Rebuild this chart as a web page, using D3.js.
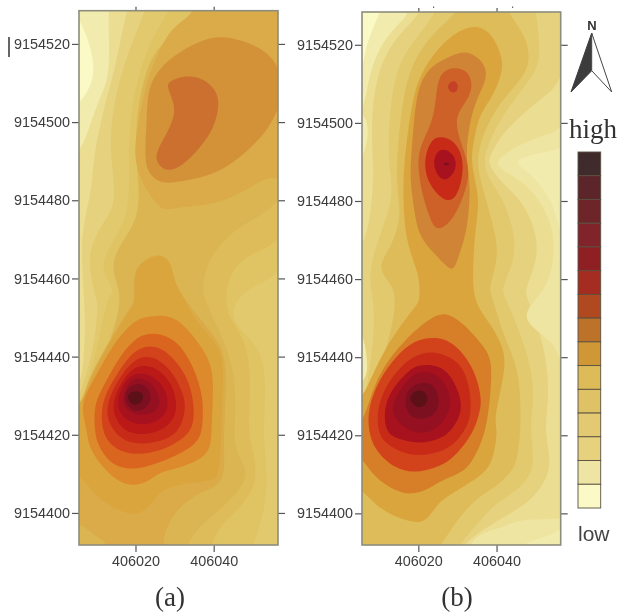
<!DOCTYPE html>
<html>
<head>
<meta charset="utf-8">
<script src="https://cdn.jsdelivr.net/npm/d3@7"></script>
<style>
  html, body { margin: 0; padding: 0; background: #fff; }
  svg { display: block; filter: blur(0.45px); }
  .tick text { font-family: "Liberation Sans", Arial, sans-serif; font-size: 14.4px; fill: #3c3c3c; }
  .tick line { stroke: #555; stroke-width: 1.2px; }
  .domain { display: none; }
</style>
</head>
<body>
<svg id="chart" width="620" height="613"></svg>
<script>
const eastTicks = [406020, 406040];
const northTicks = [9154400, 9154420, 9154440, 9154460, 9154480, 9154500, 9154520];
const panelLabels = ['(a)', '(b)'];

// colours of the contour bands, referred to by index in the rings below
const mapLevels = ['#FBF9C6', '#F2EBAE', '#EBDD92', '#E6D27E', '#E2C96E', '#E0C363', '#DEBC5A', '#DBB551',
  '#DAAB48', '#DBA53D', '#DC8A2C', '#D9651F', '#D2431C', '#C82A18', '#BB1818', '#A8121E', '#951020',
  '#7D1020', '#5C1017', '#CC7030', '#D08436', '#CD6128', '#C44026', '#EFE5A2', '#D49238', '#D67E28'];

// legend boxes, high to low
const legendColors = ['#3F2A2C', '#5C2529', '#6E2529', '#81232A', '#8E2023', '#A52C20', '#B0491F', '#BD7229',
  '#CF9736', '#DDBB58', '#DFC166', '#E3CA72', '#E6D27E', '#EEE5A5', '#FBF9C5'];

// contour rings as [band, [[metres east of 406000, metres north of 9154400], ...]], painted in order
const ringsA = [
  [5, [[35.7,128.5],[29,122],[24,116],[21,105],[20,92],[21,78],[17,70],[14,63],[16,56],[14,46],[5.6,25],[0,25],[0,135],[35.7,135]]],
  [4, [[28,128.5],[22.9,118.4],[19.5,105.6],[18.2,92.8],[18.2,78.3],[14.4,69.8],[11.4,63],[14.4,57],[12.7,54.5],[11,46],[5.6,28],[0,28],[0,135],[28,135]]],
  [3, [[22,128.5],[17.8,116.7],[14.8,105.6],[13.5,92.8],[14.8,80],[11,73.2],[8,64.7],[10.1,54.5],[10.1,52],[9.3,43.4],[5.6,31.5],[0,31],[0,135],[22,135]]],
  [2, [[17.4,128.5],[14.8,114.2],[11.8,103],[9.3,90.3],[8.8,83.5],[6.7,73.2],[6.3,64.7],[7.1,50.2],[6.7,41.7],[5.6,34],[0,34],[0,135],[17.4,135]]],
  [1, [[12.7,128.5],[13.3,113.3],[10.5,105.6],[7.6,97.1],[5.6,93.7],[0,90],[0,135],[12.7,135]]],
  [0, [[5.6,126],[9.7,113.3],[5.6,105.6],[2,105],[2,127]]],
  [6, [[56.5,77.5],[46.8,73.2],[40,66.4],[37.6,59.6],[37.8,54.5],[41.7,46],[45.1,35.7],[45.5,24.6],[45.5,16.1],[48.5,10.1],[44.2,3.3],[36.5,-3.5],[34,-8.2],[34,-14],[62,-14],[62,77.5]]],
  [5, [[56.5,68.1],[50.2,66.4],[45.1,62.1],[43.4,56.2],[44,50],[48.5,42.5],[49.3,28.9],[48.9,20.4],[51,10.1],[47.6,2.5],[41.7,-3.5],[40,-8.2],[40,-14],[62,-14],[62,68]]],
  [4, [[56.5,60],[50.2,57.9],[46.3,54.5],[45.1,51],[46.8,46.8],[51.5,41.7],[53.2,33.2],[52.7,20.4],[53.6,10.1],[52.7,-0.1],[50.2,-8.2],[50.2,-14],[62,-14],[62,60]]],
  // upper high
  [8, [[35.7,128.5],[29.7,124.4],[25.5,116.7],[22.9,109.9],[20.8,99.7],[19.9,91.2],[22,84.3],[25.5,79.2],[28,77.7],[33.1,78.5],[40,79.2],[48.5,82.6],[56.5,87.3],[62,84],[62,135],[36,135]]],
  [24, [[43.4,121.7],[36.5,120.5],[29.7,116.7],[25.5,112.4],[23.3,107.3],[22.9,99.7],[22.5,91.2],[23.8,86.9],[27.2,84.5],[33.1,85.2],[40,86.9],[46.8,91.2],[53.6,98],[56.5,103.9],[57.9,108.2],[56.5,113.3],[52.7,118.4]]],
  [19, [[28.9,110.3],[32.3,111.6],[36.5,111.2],[39.9,108.6],[41.2,104.8],[39.9,98.8],[36.5,93.7],[32.3,89.4],[28.4,87.7],[25.9,89.4],[25.5,92.4],[28,97.1],[29.7,101.4],[29.7,104.8],[28.4,108.6]]],
  // lower high
  [8, [[19.6,61.3],[22.9,64.9],[26.3,65.9],[28.9,64],[30.2,58.9],[32.7,54.7],[37,49],[42.2,41.9],[43,33.2],[42.8,25],[42.6,17],[42.6,11],[41,7.2],[36.3,5],[31.2,1.2],[28.2,-3.5],[26.9,-8.2],[26.9,-11.2],[12.8,-11.2],[12.8,-7.8],[9.9,-6.1],[5.6,-2.2],[2.4,0],[2.4,27],[5.6,27.2],[7.7,33.2],[12,41.7],[18,51.9],[19.6,54.5]]],
  [9, [[19.9,61.3],[22.9,64.7],[26.3,65.7],[28.9,63.8],[30.2,58.7],[32.7,54.5],[36.5,47.7],[41.7,41.7],[42.3,33.2],[42,25.5],[41.8,17],[41,10.1],[38.8,8.4],[31.2,7.2],[26.5,5.5],[22.6,0.8],[18.4,-0.1],[12.4,2.5],[8.1,6.7],[5.6,9.7],[2.4,12.7],[2.4,27],[5.6,27.2],[8.2,33.2],[12.4,41.7],[18.4,51.9],[19.9,54.5]]],
  [10, [[25.9,50.4],[30.6,49.4],[35.7,43.8],[39.4,37.4],[39.7,28.9],[39.3,21.2],[38.4,15.3],[32,11.9],[26.9,10.6],[23.5,8.4],[19.2,7.2],[14.1,9.3],[8.6,16.1],[7.7,21.2],[6.4,28],[9.9,34.9],[14.1,42.5],[18.4,47.7],[21.8,49.8]]],
  [11, [[21.8,45.3],[25.2,45.8],[30.3,43.8],[34.6,37.4],[37,29.8],[37.1,23.8],[36.7,21.2],[34.6,17],[25.2,12.7],[19.2,11.4],[14.1,12.7],[10.8,17],[9.7,21.2],[9.7,27.2],[11.8,32.3],[16.1,40],[19.5,43.8]]],
  [12, [[22,42.3],[26.3,42.1],[30.6,38.3],[33.6,33.2],[34.8,27.2],[34.4,22.1],[31.4,18.7],[26.3,16.1],[20.3,15.1],[15.2,16.5],[12.2,19.9],[11.4,24.6],[12.2,29.8],[15.2,35.3],[18.6,40]]],
  [13, [[22,39.8],[25.9,39.1],[29.7,35.3],[32.3,29.8],[32.4,25.5],[30.6,20.8],[26.3,18.5],[20.8,17.8],[16.5,19.1],[13.7,22.5],[12.8,26.3],[13.9,30.6],[16.5,35.3],[19.3,38.4]]],
  [14, [[21.6,37.6],[25.5,36.7],[28.9,33.2],[30.3,28.5],[29.7,24.2],[26.3,21.2],[21.6,20.2],[17.4,21.2],[15.1,24.2],[14.4,27.6],[15.7,31.9],[18.6,36.1]]],
  [15, [[21.2,35.7],[24.6,34.7],[27.2,31.9],[28.2,28.5],[27.3,25.1],[24.2,23.1],[20.3,22.8],[17.1,24.5],[15.5,27.6],[16.5,31.9],[18.6,34.7]]],
  [16, [[20.8,34.4],[23.8,33.3],[25.6,30.6],[26.1,28],[24.8,25.9],[21.6,25.1],[18.6,25.9],[16.8,28.5],[17.6,31.9],[19.1,33.8]]],
  [17, [[20.5,33],[22.9,32.1],[23.9,29.6],[22.9,27.2],[20.3,26],[18.2,27.4],[17.4,29.6],[18.2,31.9]]],
  [18, [[20,31.2],[21.6,30.6],[21.9,29.5],[21.2,28.2],[20,27.7],[18.8,28.2],[18.1,29.5],[18.6,30.6]]]
];

const ringsB = [
  [4, [[29,128.2],[23.8,122.8],[18.7,115.1],[16.2,105.7],[14.9,94.6],[14.5,84.4],[15.3,75.9],[12.8,68.2],[10.2,63.1],[12.8,58.8],[14,54.6],[12.8,46],[9.3,35],[5.6,26.4],[0,26],[0,135],[29,135]]],
  [3, [[23.8,128.2],[19.6,121.9],[15.3,115.1],[13.2,105.7],[12.3,92.9],[13.2,83.5],[11.9,75.9],[7.6,63.1],[8.5,54.6],[8.5,46],[7.2,35.8],[5.6,29.8],[0,29],[0,135],[23.8,135]]],
  [2, [[20,128.2],[15.3,122.8],[11.5,116.8],[8.9,108.3],[8.1,97.2],[8.5,87],[7.6,76.7],[5.6,69.9],[0,68],[0,135],[20,135]]],
  [1, [[16.6,128.2],[16.6,127],[11.9,121.9],[8.5,115.1],[6.8,108.3],[5.6,104],[2,102],[2,132],[16.6,132]]],
  [0, [[10,128.2],[8.5,124.5],[6.4,118.5],[5.6,114.2],[3,112],[3,131],[10,131]]],
  [1, [[5.6,102.3],[7.2,98],[5.6,91.2],[3,91],[3,102]]],
  [1, [[5.6,46],[7,37.5],[5.6,34],[3,34],[3,46]]],
  // valley on the right side
  [4, [[43.4,128.2],[47.3,121.9],[48.1,115.1],[45.1,110],[40.9,104.9],[37.5,98.9],[35.8,93.8],[35.3,88.7],[37.1,81],[39.6,71.6],[40,64.8],[38.3,58],[39.2,54.6],[41.7,46],[45.1,37.5],[46,29],[46,21.3],[45.1,13.6],[43.1,10.2],[39.7,6.8],[34.6,3.4],[29.5,-2.6],[26.5,-8.1],[26.5,-14],[62,-14],[62,134],[43.4,134]]],
  [3, [[50.3,128.2],[50.7,121.9],[50.7,115.1],[46.9,109.1],[42.6,103.2],[39.2,97.2],[37.5,92.9],[37.1,89.5],[38.3,85.3],[41.7,80.1],[44.3,71.6],[44.3,64.8],[41.7,58],[42.6,54.6],[46,46],[48.6,37.5],[49.4,29],[48.6,21.3],[49.4,11.9],[45.1,6],[40,2.6],[34.6,-3.4],[31.2,-8.1],[31.2,-14],[62,-14],[62,134],[50.3,134]]],
  [2, [[56.4,109.1],[52,106.6],[46.9,102.3],[41.7,97.2],[38.8,92.1],[38.3,89.5],[40.9,85.3],[46,80.1],[49.4,73.3],[50.3,65.6],[47.7,58],[48.1,54.6],[51.1,46],[52.8,37.5],[53.2,29],[52.4,20.5],[53.7,11.9],[49.4,4.3],[43.4,0],[36.6,-4.3],[32.4,-8.1],[32.4,-14],[62,-14],[62,109]]],
  [23, [[56.4,97.6],[52,96.8],[45.1,93.8],[40.5,90.4],[41.7,87.8],[47.7,84],[52.8,76.7],[54.5,69.9],[54.1,63.1],[52,57.1],[47.3,51.2],[50.3,46.9],[54.5,43.5],[56.4,40.1],[62,38],[62,100]]],
  [23, [[33.7,-8.1],[36.7,-5.1],[42.2,-3.4],[46.5,-1.7],[56.4,-1.7],[62,-2],[62,-14],[33.7,-14]]],
  [1, [[56.4,92.9],[50.3,92.1],[45.1,89.9],[48.6,87],[54.5,79.3],[56.4,71.6],[62,70],[62,94]]],
  [1, [[46.9,-8.1],[52,-6.4],[56.4,-4.3],[62,-4],[62,-14],[46.9,-14]]],
  [6, [[5.6,-5.1],[9,-8.1],[9,-14],[2,-14],[2,-3]]],
  // the long outer ring around both highs
  [9, [[33.6,124.6],[38.3,122.8],[40.9,117.6],[41.3,113.4],[39.2,107.4],[35.8,101.9],[34.5,96.3],[33.6,90.4],[34.9,83.5],[35.3,78.4],[34.5,71.6],[34.1,63.1],[34.5,54.6],[38.3,48.6],[41.7,41.8],[41.7,35],[39.6,24.7],[40.1,21.3],[38.8,13.6],[35.4,9.4],[28.6,5.1],[24.8,2.1],[22.2,-1.3],[18.4,-2.1],[10.7,0.9],[5.6,6.4],[3.4,8.5],[3.4,29],[5.6,29],[10.7,40.9],[18.4,52],[20,54.6],[20,61.4],[17,69.9],[16.2,83.5],[17,94.6],[18.7,105.7],[21.3,113.4],[27.2,121.1]]],
  // upper highs
  [20, [[32.4,118.1],[36.6,115.1],[37.1,110.8],[34.5,104.9],[32.8,97.2],[32.4,90.4],[33.2,83.5],[32.4,73.3],[30.7,67.3],[29,62.7],[26.8,63.9],[23,67.8],[20,72.5],[18.7,80.1],[18,87],[18.7,97.2],[20,108.3],[23.4,114.2],[28.1,116.8]]],
  [21, [[29,114],[32.4,113],[33.6,109.5],[32.4,105.7],[29.8,101.4],[30.7,95.5],[32.8,88.7],[31.9,82.7],[29,75.9],[25.1,72.9],[23,75.9],[20.9,82.7],[20,90.4],[21.3,95.5],[23.8,101.4],[24.7,108.3],[26,112.5]]],
  [22, [[29,110.8],[30.2,109.3],[29,107.6],[27.4,109.3]]],
  [13, [[25.5,96.3],[29,95.1],[31.1,91.2],[31.1,86.1],[29.4,81],[26.4,80.6],[23,84.4],[21.7,89.5],[23,94.6]]],
  [15, [[26.4,93.2],[29,91.6],[29.5,88.2],[27.2,85.5],[25.1,86.5],[24,89.5],[24.7,92.1]]],
  [17, [[27.2,89.9],[28,89.5],[27.2,89.1],[26.4,89.5]]],
  // lower high
  [25, [[26.9,51],[31.2,48.6],[35.9,43.5],[38.4,39.2],[38.4,31.5],[37.1,21.3],[34.2,14.5],[31.2,10.7],[26.1,8.5],[22.6,6.4],[18.4,5.1],[14.1,6],[9,9.4],[5.6,14.1],[3.8,16.2],[3.8,23.4],[5.6,23.9],[7.3,28.1],[10.7,36.7],[16.7,44.3],[22.6,49.4]]],
  [12, [[23.9,44.8],[28.6,43.5],[33.7,37.5],[35.9,29.8],[35.4,25.6],[33.7,20.5],[28.6,14.1],[24.3,11.9],[19.2,10.7],[14.1,11.9],[9.4,16.2],[7.5,21.3],[7.6,27.3],[10.2,34.1],[14.5,40.1],[19.1,43.9]]],
  [13, [[21.3,40.9],[25.1,40.9],[30.3,38.4],[32.9,32.4],[33.3,25.6],[31.7,21.3],[29,17.9],[25.2,15.8],[20.1,14.9],[15.8,15.8],[12,17.9],[9.9,21.3],[9.9,27.3],[12.3,33.2],[17,38.8]]],
  [15, [[21.7,37.9],[26.9,36.7],[30.3,30.7],[30.7,25.6],[28.2,21.3],[25.2,19.2],[20.1,18.1],[15,19.2],[12,21.3],[11.6,27.3],[14,32.4],[17.9,36.7]]],
  [16, [[21.3,36.2],[25.1,35.1],[27.7,31.1],[27.9,26.9],[25.5,22.6],[21.3,20.6],[17,21.7],[14,24.7],[13.6,28.1],[15.7,32],[18.3,35]]],
  [17, [[20.9,33.4],[23.8,32.6],[25.2,29.4],[24.3,25.6],[20.9,24.3],[17.9,25.1],[16.7,28.6],[17.9,32]]],
  [18, [[20.3,31.5],[21.7,30.9],[22.4,29.4],[21.7,27.9],[20.3,27.2],[18.8,27.9],[17.9,29.4],[18.8,30.9]]]
];

const svg = d3.select('#chart');
const fmt = d3.format('d');

// a closed b-spline pulls rings inward, so push the control points out a bit first
function tighten(ring) {
  const n = ring.length;
  return ring.map((p, i) => {
    const a = ring[(i + n - 1) % n], b = ring[(i + 1) % n];
    return [p[0] + (2 * p[0] - a[0] - b[0]) / 6, p[1] + (2 * p[1] - a[1] - b[1]) / 6];
  });
}

function drawPanel(id, rings, baseLevel, box, xDomain, yDomain) {
  const x = d3.scaleLinear().domain(xDomain).range([box.left, box.right]);
  const y = d3.scaleLinear().domain(yDomain).range([box.bottom, box.top]);

  const line = d3.line()
    .x(d => x(406000 + d[0]))
    .y(d => y(9154400 + d[1]))
    .curve(d3.curveBasisClosed);

  svg.append('clipPath').attr('id', 'clip-' + id)
    .append('rect')
    .attr('x', box.left).attr('y', box.top)
    .attr('width', box.right - box.left).attr('height', box.bottom - box.top);

  const g = svg.append('g').attr('clip-path', `url(#clip-${id})`);

  g.append('rect')
    .attr('x', box.left).attr('y', box.top)
    .attr('width', box.right - box.left).attr('height', box.bottom - box.top)
    .attr('fill', mapLevels[baseLevel]);

  g.selectAll('path')
    .data(rings)
    .enter()
    .append('path')
    .attr('d', d => line(tighten(d[1])))
    .attr('fill', d => mapLevels[d[0]]);

  svg.append('g').attr('transform', `translate(${box.left},0)`)
    .call(d3.axisLeft(y).tickValues(northTicks).tickSize(7).tickPadding(2).tickFormat(fmt));
  svg.append('g').attr('transform', `translate(${box.right},0)`)
    .call(d3.axisRight(y).tickValues(northTicks).tickSize(7).tickFormat(''));
  svg.append('g').attr('transform', `translate(0,${box.bottom})`)
    .call(d3.axisBottom(x).tickValues(eastTicks).tickSize(7).tickPadding(4).tickFormat(fmt));
  svg.append('g').attr('transform', `translate(0,${box.top})`)
    .call(d3.axisTop(x).tickValues(eastTicks).tickSize(4).tickFormat(''));

  svg.append('rect')
    .attr('x', box.left).attr('y', box.top)
    .attr('width', box.right - box.left).attr('height', box.bottom - box.top)
    .attr('fill', 'none')
    .attr('stroke', '#8d8d7c')
    .attr('stroke-width', 1.6);
}

drawPanel('a', ringsA, 7, {left: 79, right: 278, top: 10.7, bottom: 545},
  [406005.55, 406056.45], [9154391.8, 9154528.5]);
drawPanel('b', ringsB, 6, {left: 362, right: 560.7, top: 12, bottom: 545},
  [406005.6, 406056.4], [9154391.9, 9154528.4]);

// stray marks of the original figure
svg.append('line').attr('x1', 9).attr('x2', 9).attr('y1', 37).attr('y2', 57)
  .attr('stroke', '#555').attr('stroke-width', 1.8);
svg.selectAll('.dot').data([433, 512]).enter().append('rect')
  .attr('x', d => d).attr('y', 6.5).attr('width', 1.2).attr('height', 1.5).attr('fill', '#666');

// panel captions
svg.selectAll('.cap').data(panelLabels).enter().append('text')
  .attr('x', (d, i) => i ? 457 : 170)
  .attr('y', 606)
  .attr('text-anchor', 'middle')
  .attr('font-family', '"Liberation Serif", serif')
  .attr('font-size', 27)
  .attr('fill', '#333')
  .text(d => d);

// legend
const legendY = d3.scaleBand().domain(d3.range(legendColors.length)).range([152, 508]);
svg.selectAll('.legend').data(legendColors).enter().append('rect')
  .attr('x', 578)
  .attr('y', (d, i) => legendY(i))
  .attr('width', 22.7)
  .attr('height', legendY.bandwidth())
  .attr('fill', d => d)
  .attr('stroke', '#5a5040')
  .attr('stroke-width', 0.9);

svg.append('text').attr('x', 569).attr('y', 138)
  .attr('font-family', '"Liberation Serif", serif').attr('font-size', 27).attr('fill', '#333').text('high');
svg.append('text').attr('x', 578).attr('y', 541)
  .attr('font-family', '"Liberation Sans", sans-serif').attr('font-size', 21).attr('fill', '#444').text('low');

// north arrow
const arrow = [[591.7, 33], [571, 92], [591.7, 70.7], [611.7, 92]];
const arrowLine = d3.line();
svg.append('path').attr('d', arrowLine([arrow[0], arrow[1], arrow[2]]) + 'Z').attr('fill', '#3c3c3c').attr('stroke', '#3c3c3c');
svg.append('path').attr('d', arrowLine([arrow[0], arrow[3], arrow[2]]) + 'Z').attr('fill', '#fff').attr('stroke', '#444').attr('stroke-width', 1);
svg.append('text').attr('x', 592).attr('y', 30).attr('text-anchor', 'middle')
  .attr('font-family', '"Liberation Sans", sans-serif').attr('font-size', 13).attr('font-weight', 'bold').attr('fill', '#333').text('N');
</script>
</body>
</html>
